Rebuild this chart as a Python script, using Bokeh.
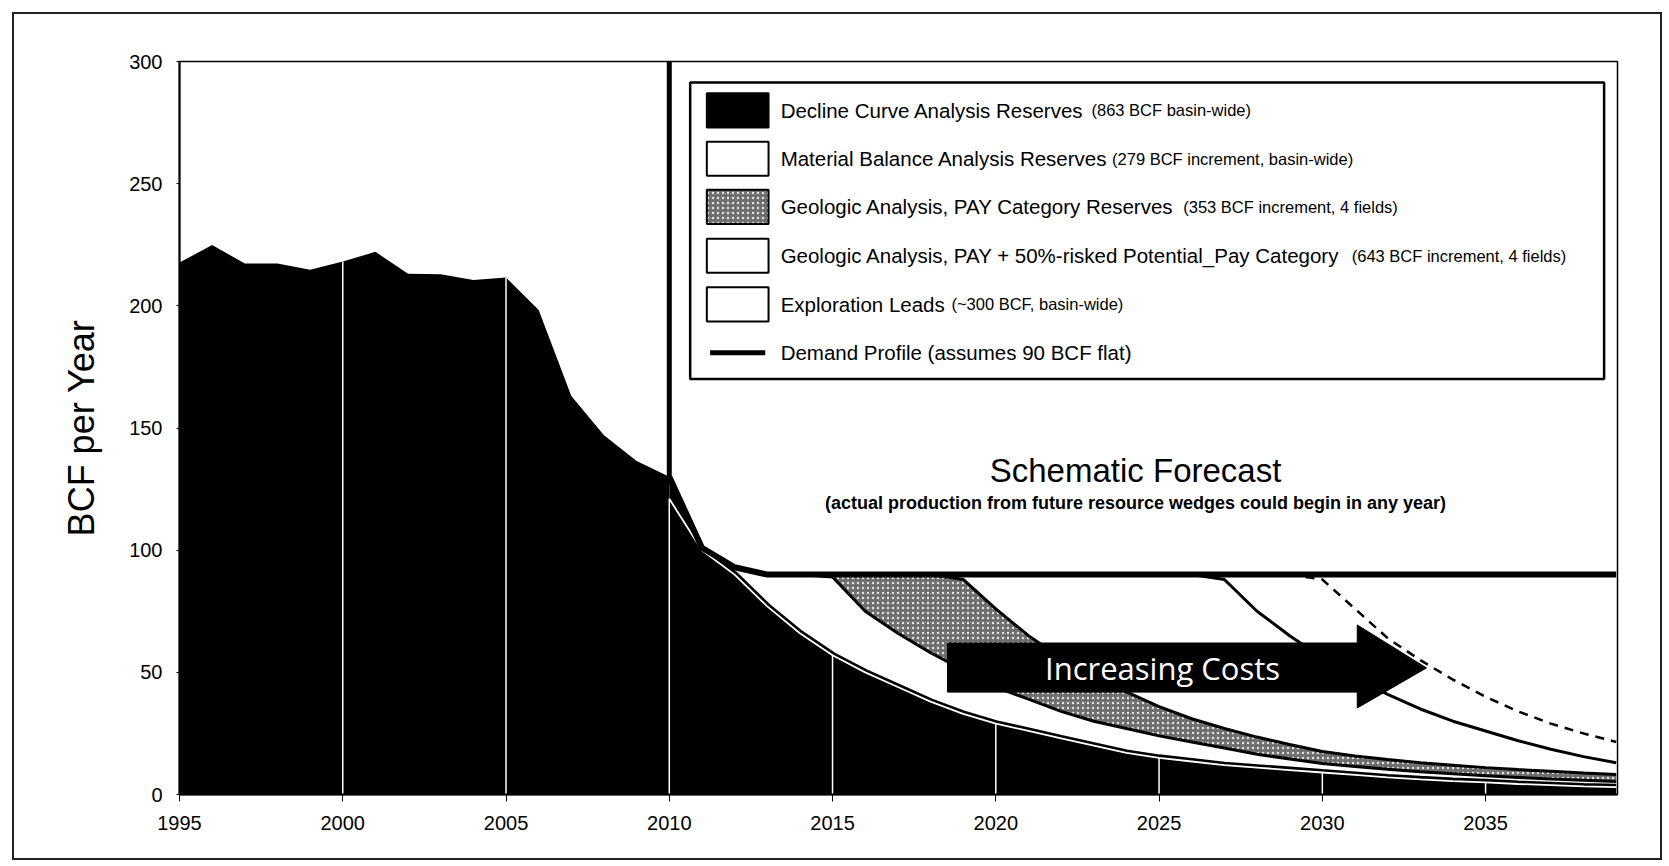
import numpy as np
from bokeh.plotting import figure
from bokeh.models import Range1d, FixedTicker, Div
from bokeh.layouts import column
from bokeh.core.properties import value
from bokeh.embed import file_html
from bokeh.resources import INLINE

# ---------------- data ----------------
hist_years = list(range(1995, 2011))
hist_prod = [217.7, 224.9, 217.3, 217.3, 214.8, 218.1, 222.1, 213.1, 212.9,
             210.6, 211.6, 198.3, 163.1, 147.0, 136.5, 130.0]

fc_years = list(range(2010, 2040))
decline = [121, 100, 90, 77, 66, 57, 50, 44, 38, 33, 29, 26, 23, 20, 17, 15,
           13.5, 12, 11, 10, 9, 8, 7, 6.2, 5.5, 5, 4.3, 3.8, 3.3, 3]
mb_top = [130, 101, 93, 90, 90, 89, 75, 66, 58, 51, 44, 39, 34, 30, 27, 24,
          21.5, 19, 16.5, 14.5, 12.7, 11.5, 10.3, 9.3, 8.5, 7.7, 7, 6.3, 5.8, 5.3]
pay_top = [130, 101, 93, 90, 90, 90, 90, 90, 90, 88, 76, 65, 56, 48, 42, 36,
           31, 27, 23.5, 20.5, 17.6, 15.8, 14.3, 13, 12, 11, 10.2, 9.5, 8.8, 8.2]
pay50_top = [130, 101, 93] + [90] * 14 + [88, 75, 65, 56, 48, 41, 35, 30, 26,
                                          22, 18.5, 15.5, 13]
expl_top = [130, 101, 93] + [90] * 17 + [88, 76, 64, 55, 47, 40, 34, 29, 25, 21.5]
demand = [130, 101, 93] + [90] * 27

x_ticks = list(range(1995, 2040, 5))
y_ticks = list(range(0, 301, 50))

legend_labels = [
    "Decline Curve Analysis Reserves",
    "Material Balance Analysis Reserves",
    "Geologic Analysis, PAY Category Reserves",
    "Geologic Analysis, PAY + 50%-risked Potential_Pay Category",
    "Exploration Leads",
    "Demand Profile (assumes 90 BCF flat)",
]
legend_notes = [
    "(863 BCF basin-wide)",
    "(279 BCF increment, basin-wide)",
    "(353 BCF increment, 4 fields)",
    "(643 BCF increment, 4 fields)",
    "(~300 BCF, basin-wide)",
]

# ---------------- figure ----------------
FONT = "Liberation Sans"
p = figure(width=1667, height=864,
           x_range=Range1d(1995, 2039.04), y_range=Range1d(0, 300),
           output_backend="svg", toolbar_location=None,
           min_border_left=179, min_border_right=50,
           min_border_top=61, min_border_bottom=70)
p.xgrid.visible = False
p.ygrid.visible = False
p.outline_line_color = "black"
p.outline_line_width = 1.5
p.background_fill_color = "white"

p.xaxis.ticker = FixedTicker(ticks=x_ticks)
p.yaxis.ticker = FixedTicker(ticks=y_ticks)
for ax in (p.xaxis[0], p.yaxis[0]):
    ax.axis_line_color = "black"
    ax.axis_line_width = 2
    ax.major_tick_line_color = "black"
    ax.minor_tick_line_color = None
    ax.major_label_text_font = FONT
    ax.major_label_text_font_size = "20px"
    ax.major_label_text_color = "black"
p.xaxis.major_tick_in = 0
p.xaxis.major_tick_out = 7
p.xaxis.major_label_standoff = 14
p.yaxis.major_tick_in = 0
p.yaxis.major_tick_out = 3
p.yaxis.major_label_standoff = 14
p.yaxis.axis_label = "BCF per Year"
p.yaxis.axis_label_text_font = FONT
p.yaxis.axis_label_text_font_style = "normal"
p.yaxis.axis_label_text_font_size = "36px"
p.yaxis.axis_label_text_color = "black"
p.yaxis.axis_label_standoff = 24

STIPPLE = dict(fill_color="#6e6e6e", hatch_pattern="dot", hatch_color="#e0e0e0",
               hatch_scale=5, hatch_weight=1.2)

# ---------------- areas ----------------
p.varea(x=hist_years, y1=0, y2=hist_prod, fill_color="black")
p.varea(x=fc_years, y1=0, y2=decline, fill_color="black")
p.varea(x=fc_years, y1=decline, y2=mb_top, fill_color="white")
p.varea(x=fc_years[:3], y1=decline[:3], y2=demand[:3], fill_color="black")
p.varea(x=fc_years, y1=mb_top, y2=pay_top, **STIPPLE)
p.varea(x=fc_years, y1=pay_top, y2=pay50_top, fill_color="white")
p.varea(x=fc_years, y1=pay50_top, y2=expl_top, fill_color="white")

p.line(fc_years, mb_top, line_color="black", line_width=3)
p.line(fc_years, pay_top, line_color="black", line_width=3)
p.line(fc_years, pay50_top, line_color="black", line_width=3)
p.line(fc_years, expl_top, line_color="black", line_width=2.5, line_dash="9 7")
p.line(fc_years, decline, line_color="black", line_width=7)
p.line(fc_years, decline, line_color="white", line_width=1.8)

# white vertical grid segments inside the black areas
grid_top = []
for yr in x_ticks[1:]:
    if yr < 2010:
        grid_top.append(hist_prod[hist_years.index(yr)])
    else:
        grid_top.append(decline[fc_years.index(yr)])
p.segment(x0=x_ticks[1:], y0=[0] * len(grid_top), x1=x_ticks[1:], y1=grid_top,
          line_color="white", line_width=1.5)

# demand line and history / forecast divider
p.line(fc_years, demand, line_color="black", line_width=6)
p.segment(x0=[fc_years[0]], y0=[demand[0]], x1=[fc_years[0]], y1=[300],
          line_color="black", line_width=5)

# ---------------- legend box ----------------
LB_L, LB_R, LB_T, LB_B = 2010.64, 2038.63, 291.4, 170.1
p.quad(left=[LB_L], right=[LB_R], top=[LB_T], bottom=[LB_B],
       fill_color="white", line_color="black", line_width=2.5)
row_y = [280.0, 260.2, 240.5, 220.5, 200.6, 180.8]
SW_L, SW_R, SW_H = 2011.15, 2013.04, 7.0
sw_fill = ["black", "white", None, "white", "white"]
for i in range(5):
    kw = STIPPLE if i == 2 else dict(fill_color=sw_fill[i])
    p.quad(left=[SW_L], right=[SW_R], top=[row_y[i] + SW_H],
           bottom=[row_y[i] - SW_H], line_color="black", line_width=2, **kw)
p.segment(x0=[SW_L + 0.1], y0=[row_y[5]], x1=[SW_R - 0.1], y1=[row_y[5]],
          line_color="black", line_width=5)
TX = 2013.41
note_x = [2022.93, 2023.56, 2025.74, 2030.90, 2018.64]
p.text(x=[TX] * 6, y=row_y, text=legend_labels, text_font=value(FONT),
       text_font_size=value("20.5px"), text_baseline="middle",
       text_color="black")
p.text(x=note_x, y=row_y[:5], text=legend_notes, text_font=value(FONT),
       text_font_size=value("16.5px"), text_baseline="middle",
       text_color="black")

# ---------------- annotations ----------------
p.text(x=[2024.28], y=[132.8], text=["Schematic Forecast"],
       text_font=value(FONT), text_font_size=value("33px"),
       text_align="center", text_baseline="middle", text_color="black")
p.text(x=[2024.28], y=[119.3],
       text=["(actual production from future resource wedges could begin in any year)"],
       text_font=value(FONT), text_font_size=value("18px"),
       text_font_style="bold", text_align="center", text_baseline="middle",
       text_color="black")

AX0, AX1, ATIP = 2018.52, 2031.07, 2033.19
AB, AT, HB, HT, AM = 41.9, 62.0, 35.4, 69.4, 51.8
p.patch(x=[AX0, AX1, AX1, ATIP, AX1, AX1, AX0],
        y=[AT, AT, HT, AM, HB, AB, AB], fill_color="black", line_color="black")
p.text(x=[2025.23], y=[AM], text=["Increasing  Costs"],
       text_font=value("Open Sans"), text_font_size=value("31px"),
       text_align="center", text_baseline="middle", text_color="white")

# outer frame around the whole chart (overlay, takes no layout space)
frame = Div(text="", width=1650, height=848,
            styles={"position": "absolute", "left": "7px", "top": "7px",
                    "border": "2px solid #222", "box-sizing": "border-box",
                    "pointer-events": "none", "z-index": "10"})
layout = column(p, frame, spacing=0)

open("out.html", "w").write(file_html(layout, INLINE))
